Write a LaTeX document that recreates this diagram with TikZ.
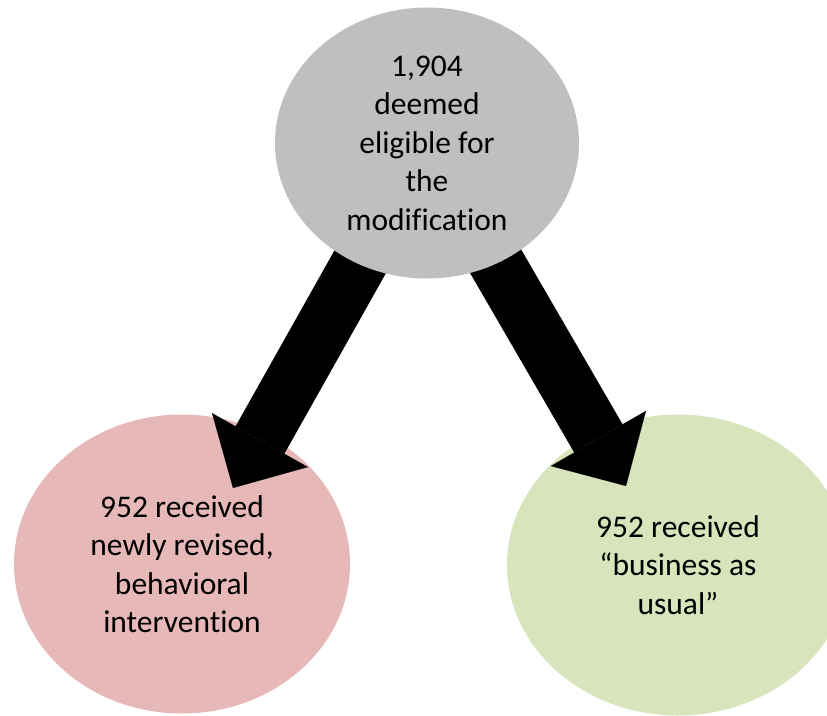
\documentclass[tikz,border=0pt]{standalone}
\usepackage{fontspec}
\setmainfont{Carlito}[Ligatures=NoCommon]
\usetikzlibrary{shapes.geometric,arrows.meta}
\definecolor{cinza}{HTML}{BFBFBF}
\definecolor{rosa}{HTML}{E6B8B7}
\definecolor{verde}{HTML}{D8E4BC}
\pgfdeclarelayer{front}
\pgfsetlayers{main,front}
\tikzset{
  grupo/.style={ellipse, inner sep=0pt, align=center, font=\fontsize{31.5}{38.5}\selectfont},
  seta/.style={line width=56pt, -{Triangle[length=55pt,width=110pt,line width=0.1pt]}}
}
\begin{document}
\begin{tikzpicture}[x=1pt,y=-1pt]
  \useasboundingbox (0,0) rectangle (827,715);
  % Grupos de baixo
  \node[grupo, fill=rosa, minimum width=336pt, minimum height=299pt] (interv) at (182,564) {952 received\\newly revised,\\behavioral\\intervention};
  \node[grupo, fill=verde, minimum width=342pt, minimum height=301pt] (usual) at (678,565) {952 received\\“business as\\usual”};
  % Grupo elegivel (na frente das setas)
  \begin{pgfonlayer}{front}
    \node[grupo, fill=cinza, minimum width=304pt, minimum height=271pt] (elig) at (427,143) {1,904\\deemed\\eligible for\\the\\modification};
  \end{pgfonlayer}
  % Setas
  \coordinate (pontaA) at (233,488);
  \coordinate (pontaB) at (626,486);
  \draw[seta] (elig.center) -- (pontaA);
  \draw[seta] (elig.center) -- (pontaB);
\end{tikzpicture}
\end{document}
